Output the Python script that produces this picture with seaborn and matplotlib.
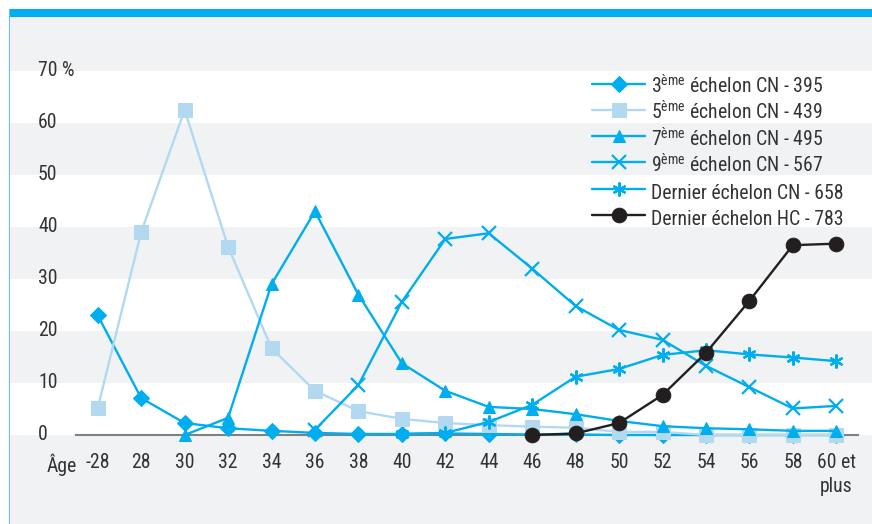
import numpy as np
import pandas as pd
import matplotlib
matplotlib.use("Agg")
import matplotlib.pyplot as plt
from matplotlib.patches import Rectangle
from matplotlib.transforms import blended_transform_factory
import seaborn as sns

# data (% of each grade by age)
ages = ['-28', '28', '30', '32', '34', '36', '38', '40', '42', '44',
        '46', '48', '50', '52', '54', '56', '58', '60 et\nplus']
nan = np.nan
ech3 = [23, 7.1, 2.3, 1.3, 0.8, 0.4, 0.2, 0.2, 0.3, 0.2, 0.1, 0.1, 0, 0, 0, 0, 0, 0]
ech5 = [5.2, 39, 62.5, 36.2, 16.7, 8.5, 4.6, 3.1, 2.3, 1.9, 1.6, 1.4, 0.6, 0.6, 0, 0, 0, 0]
ech7 = [nan, nan, 0, 3.3, 29, 43, 27, 13.8, 8.5, 5.4, 5, 4, 2.7, 1.7, 1.3, 1.1, 0.8, 0.8]
ech9 = [nan, nan, nan, nan, nan, 1.0, 9.6, 25.6, 37.7, 38.8, 32, 24.8, 20.2, 18.3, 13.3, 9.2, 5.1, 5.6]
dern_cn = [nan] * 7 + [0.2, 0.4, 2.5, 5.8, 11.2, 12.7, 15.4, 16.3, 15.5, 14.9, 14.2]
dern_hc = [nan] * 10 + [0, 0.3, 2.3, 7.7, 15.8, 25.8, 36.5, 36.8]

labels = [r'3$^{\mathrm{ème}}$ échelon CN - 395',
          r'5$^{\mathrm{ème}}$ échelon CN - 439',
          r'7$^{\mathrm{ème}}$ échelon CN - 495',
          r'9$^{\mathrm{ème}}$ échelon CN - 567',
          'Dernier échelon CN - 658',
          'Dernier échelon HC - 783']
series = [ech3, ech5, ech7, ech9, dern_cn, dern_hc]

BLUE = '#00aeef'
LIGHT = '#b2d9ef'
BLACK = '#231f20'
GREY_BG = '#f1f2f4'
TXT = '#333333'
FS = 14.2

styles = [
    dict(color=BLUE, marker='D', markersize=8.5),
    dict(color=LIGHT, marker='s', markersize=10),
    dict(color=BLUE, marker='^', markersize=9),
    dict(color=BLUE, marker='x', markersize=10, markeredgewidth=1.6),
    dict(color=BLUE, marker=(6, 2, 0), markersize=10, markeredgewidth=1.6),
    dict(color=BLACK, marker='o', markersize=10.5),
]

sns.set_style("white")
plt.rcParams['font.family'] = ['Roboto Condensed', 'DejaVu Sans']
plt.rcParams['mathtext.fontset'] = 'custom'
plt.rcParams['mathtext.rm'] = 'Roboto Condensed'
plt.rcParams['text.color'] = TXT

fig = plt.figure(figsize=(8.72, 5.24), dpi=100, facecolor=GREY_BG)
W, H = 872, 524

# frame decoration: white margin, blue top bar and thin blue left rule
fig.patches.append(Rectangle((0, 1 - 9 / H), 1, 9 / H, transform=fig.transFigure,
                             facecolor='white', edgecolor='none', zorder=0))
fig.patches.append(Rectangle((0, 0), 9 / W, 1, transform=fig.transFigure,
                             facecolor='white', edgecolor='none', zorder=0))
fig.patches.append(Rectangle((9 / W, 1 - 17 / H), 1, 8 / H, transform=fig.transFigure,
                             facecolor=BLUE, edgecolor='none', zorder=1))
fig.patches.append(Rectangle((9 / W, 0), 1.2 / W, 1 - 9 / H, transform=fig.transFigure,
                             facecolor='#5cc6f0', edgecolor='none', zorder=1))

ax = fig.add_axes([10 / W, (H - 435) / H, (W - 10) / W, (435 - 71) / H])
ax.set_facecolor('white')

px = 43.44  # pixels per category
ax.set_xlim(-0.5 - (76 - 10) / px, 17.5 + (W - 858) / px)
ax.set_ylim(0, 70)

for lo in (10, 30, 50):
    ax.axhspan(lo, lo + 10, color=GREY_BG, lw=0, zorder=0)

pos = np.arange(len(ages))
for vals, lab, st in zip(series, labels, styles):
    df = pd.DataFrame({'pos': pos, 'val': vals}).dropna()
    sns.lineplot(data=df, x='pos', y='val', ax=ax, label=lab, linewidth=1.7,
                 markeredgecolor=st['color'], clip_on=False, zorder=3,
                 sort=False, **st)

for s in ('top', 'right', 'left'):
    ax.spines[s].set_visible(False)
ax.spines['bottom'].set_bounds(-0.5, 17.5)
ax.spines['bottom'].set_color('#808080')
ax.spines['bottom'].set_linewidth(1.5)
ax.spines['bottom'].set_zorder(2)

ax.set_xticks(pos)
ax.set_xticklabels(ages, fontsize=FS, color=TXT, linespacing=1.35)
ax.set_xticks(np.arange(-0.5, 18, 1), minor=True)
ax.tick_params(axis='x', which='major', length=0, pad=13, bottom=True)
ax.tick_params(axis='x', which='minor', length=5, width=1, color='#808080', direction='out')
for t in ax.get_xticklabels():
    t.set_verticalalignment('top')
ax.set_yticks([])
ax.set_xlabel('')
ax.set_ylabel('')

trans = blended_transform_factory(ax.transAxes, ax.transData)
for v in range(0, 80, 10):
    txt = f'{v} %' if v == 70 else str(v)
    ax.text((38 - 10) / (W - 10), v, txt, transform=trans, ha='left', va='center',
            fontsize=FS, color=TXT)
ax.annotate('Âge', xy=(-0.5 + 1 / px, 0), xycoords=('data', 'axes fraction'),
            xytext=(0, -13), textcoords='offset points', ha='right', va='top',
            fontsize=FS, color=TXT)

handles, labs = ax.get_legend_handles_labels()
ax.legend(handles, labs, loc='upper left', bbox_to_anchor=(592 / W, 1 - 74 / H),
          bbox_transform=fig.transFigure, frameon=False, fontsize=FS,
          handlelength=2.7, handleheight=1.67, handletextpad=0.3, labelspacing=0,
          borderpad=0, borderaxespad=0, labelcolor=TXT)

fig.savefig('out.png', dpi=100, facecolor=fig.get_facecolor())
